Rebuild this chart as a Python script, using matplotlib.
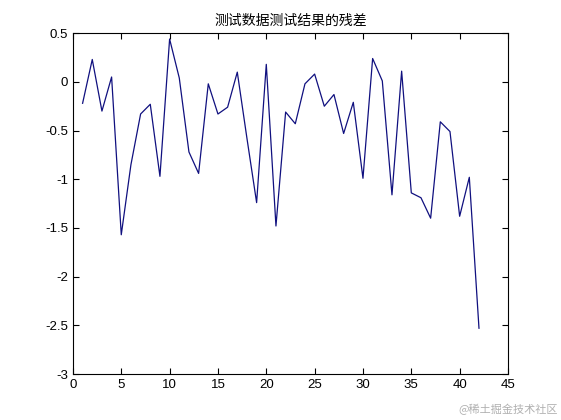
import matplotlib
matplotlib.use('Agg')
import matplotlib.pyplot as plt

plt.rcParams['font.family'] = ['Noto Sans CJK SC', 'DejaVu Sans']

# residuals
idx = list(range(1, 43))
resid = [-0.22, 0.23, -0.30, 0.05, -1.57, -0.85, -0.33, -0.23, -0.97, 0.44,
         0.04, -0.72, -0.94, -0.02, -0.33, -0.26, 0.10, -0.58, -1.24, 0.18,
         -1.48, -0.31, -0.43, -0.02, 0.08, -0.25, -0.13, -0.53, -0.21, -0.99,
         0.24, 0.01, -1.16, 0.11, -1.14, -1.19, -1.40, -0.41, -0.51, -1.38,
         -0.98, -2.53]

xticks = [0, 5, 10, 15, 20, 25, 30, 35, 40, 45]
yticks = [-3, -2.5, -2, -1.5, -1, -0.5, 0, 0.5]
ytick_labels = ['-3', '-2.5', '-2', '-1.5', '-1', '-0.5', '0', '0.5']

fig = plt.figure(figsize=(5.61, 4.2), dpi=100)
ax = fig.add_axes([0.130, 0.1095, 0.7755, 0.8115])
ax.plot(idx, resid, color='#10107f', linewidth=0.9)

ax.set_xlim(0, 45)
ax.set_ylim(-3, 0.5)
ax.set_xticks(xticks)
ax.set_xticklabels([str(t) for t in xticks], family='Liberation Sans')
ax.set_yticks(yticks)
ax.set_yticklabels(ytick_labels, family='Liberation Sans')
ax.tick_params(direction='in', top=True, right=True, length=4, labelsize=9.5, width=0.8)
for s in ax.spines.values():
    s.set_linewidth(0.8)

ax.set_title('测试数据测试结果的残差', fontsize=10, pad=6)

fig.text(0.995, 0.012, '@稀土掘金技术社区', ha='right', va='bottom',
         fontsize=8, color='#b0b0b0')

fig.savefig('out.png', dpi=100)
